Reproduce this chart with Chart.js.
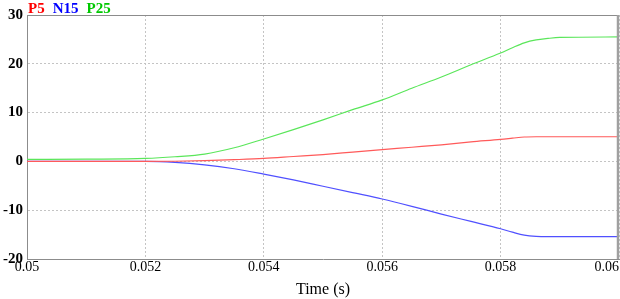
<!DOCTYPE html>
<html>
<head>
<meta charset="utf-8">
<script src="https://cdn.jsdelivr.net/npm/chart.js@4"></script>
<style>
  html, body { margin: 0; padding: 0; background: #fff; }
  #wrap { width: 620px; height: 299px; }
</style>
</head>
<body>
<div id="wrap"><canvas id="chart" width="620" height="299"></canvas></div>
<script>
// Data
const times = [0.05, 0.051, 0.052, 0.0525, 0.053, 0.0535, 0.054, 0.0545, 0.055, 0.0555, 0.056, 0.0565, 0.057, 0.0575, 0.058, 0.0582, 0.0584, 0.0586, 0.0588, 0.059, 0.06];
const p5 =  [0, 0, 0, 0.03, 0.15, 0.35, 0.6, 1.0, 1.4, 1.9, 2.4, 2.9, 3.4, 4.0, 4.5, 4.75, 5.0, 5.05, 5.05, 5.05, 5.05];
const n15 = [0, 0, 0, -0.2, -0.7, -1.5, -2.6, -3.8, -5.1, -6.4, -7.7, -9.2, -10.8, -12.3, -13.8, -14.5, -15.1, -15.35, -15.4, -15.4, -15.4];
const p25 = [0.4, 0.45, 0.6, 0.95, 1.5, 2.8, 4.6, 6.5, 8.5, 10.6, 12.6, 15.0, 17.3, 19.8, 22.2, 23.3, 24.3, 24.9, 25.2, 25.4, 25.5];
const seriesNames = ['P5', 'N15', 'P25'];
const seriesColors = ['#ff5a5a', '#5050ff', '#5ae65a'];
const legendColors = ['#ff0000', '#0000ff', '#00c800'];
const yTicks = [-20, -10, 0, 10, 20, 30];
const xTicks = [0.05, 0.052, 0.054, 0.056, 0.058, 0.06];

const FONT = '"Liberation Serif", "Times New Roman", serif';

function toPoints(values) {
  return values.map((v, i) => ({ x: times[i], y: v }));
}

// Legend text at the top-left, coloured like the traces
const legendText = {
  id: 'legendText',
  afterDraw(chart) {
    const ctx = chart.ctx;
    ctx.save();
    ctx.font = 'bold 15px ' + FONT;
    ctx.textBaseline = 'alphabetic';
    let x = 28;
    seriesNames.forEach((name, i) => {
      ctx.fillStyle = legendColors[i];
      ctx.fillText(name, x, 13);
      x += ctx.measureText(name).width + 8;
    });
    ctx.restore();
  }
};

// Frame around the plot area
const frame = {
  id: 'frame',
  afterDatasetsDraw(chart) {
    const { left, right, top, bottom } = chart.chartArea;
    const ctx = chart.ctx;
    ctx.save();
    ctx.strokeStyle = '#8c8c8c';
    ctx.lineWidth = 1;
    ctx.beginPath();
    ctx.moveTo(left, top + 0.5);
    ctx.lineTo(right, top + 0.5);
    ctx.stroke();
    ctx.lineWidth = 2.5;
    ctx.strokeStyle = '#a0a0a0';
    ctx.beginPath();
    ctx.moveTo(right - 1, top);
    ctx.lineTo(right - 1, bottom);
    ctx.stroke();
    ctx.restore();
  }
};

new Chart(document.getElementById('chart'), {
  type: 'line',
  data: {
    datasets: [p5, n15, p25].map((vals, i) => ({
      label: seriesNames[i],
      data: toPoints(vals),
      borderColor: seriesColors[i],
      borderWidth: 1.2,
      pointRadius: 0,
      cubicInterpolationMode: 'monotone',
      fill: false,
    })),
  },
  options: {
    responsive: false,
    animation: false,
    layout: { padding: { top: 15, right: 1, left: 0, bottom: 0 } },
    plugins: {
      legend: { display: false },
      tooltip: { enabled: false },
    },
    scales: {
      x: {
        type: 'linear',
        min: 0.05,
        max: 0.06,
        afterBuildTicks(axis) {
          axis.ticks = xTicks.map((v) => ({ value: v }));
        },
        afterFit(axis) {
          axis.height = 40;
          axis.paddingLeft = 0;
          axis.paddingRight = 0;
        },
        ticks: {
          color: '#000',
          font: { family: FONT, size: 14 },
          padding: 0,
          maxRotation: 0,
          // last label sits flush against the right edge, as in the original
          callback: (v, i, all) => {
            const s = String(Number(v.toFixed(3)));
            return i === all.length - 1 ? s + '       ' : s;
          },
        },
        grid: { color: '#c4c4c4', drawTicks: false, tickLength: 0 },
        border: { color: '#8c8c8c', dash: [2, 2], display: true },
        title: {
          display: true,
          text: 'Time (s)',
          color: '#000',
          font: { family: FONT, size: 16 },
          padding: { top: 2, bottom: 0 },
        },
      },
      y: {
        min: -20,
        max: 30,
        afterBuildTicks(axis) {
          axis.ticks = yTicks.map((v) => ({ value: v }));
        },
        afterFit(axis) {
          axis.width = 27;
          axis.paddingTop = 0;
          axis.paddingBottom = 0;
        },
        ticks: {
          color: '#000',
          font: { family: FONT, size: 15, weight: 'bold' },
          padding: 4,
        },
        grid: { color: '#c4c4c4', drawTicks: false, tickLength: 0 },
        border: { color: '#8c8c8c', dash: [2, 2] },
      },
    },
  },
  plugins: [legendText, frame],
});
</script>
</body>
</html>
